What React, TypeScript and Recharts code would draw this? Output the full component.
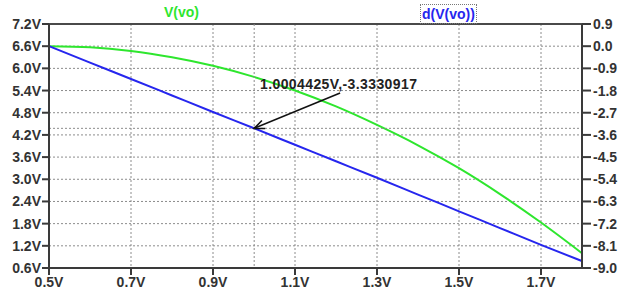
import { LineChart, Line, XAxis, YAxis, CartesianGrid, ReferenceLine } from 'recharts'

// sweep points (V) and the two traces
const sweep = [0.5, 0.6, 0.7, 0.8, 0.9, 1.0, 1.1, 1.2, 1.3, 1.4, 1.5, 1.6, 1.7, 1.8]
const vvo = [6.6, 6.57, 6.47, 6.3, 6.07, 5.77, 5.4, 4.97, 4.47, 3.92, 3.3, 2.6, 1.83, 1.0]
const dvvo = [0.0, -0.67, -1.33, -2.0, -2.67, -3.33, -4.0, -4.67, -5.34, -6.02, -6.7, -7.38, -8.06, -8.72]

const xTicks = [0.5, 0.7, 0.9, 1.1, 1.3, 1.5, 1.7]
const leftTicks = [0.6, 1.2, 1.8, 2.4, 3.0, 3.6, 4.2, 4.8, 5.4, 6.0, 6.6, 7.2]
const rightTicks = [-9.0, -8.1, -7.2, -6.3, -5.4, -4.5, -3.6, -2.7, -1.8, -0.9, 0.0, 0.9]

const cursorX = 1.0004425
const cursorY = -3.3330917
const arrowTail = { x: 1.21, y: -1.9 }

const data = sweep.map((x, i) => ({ x, vo: vvo[i], dvo: dvvo[i] }))

const W = 623
const H = 298
const M = { top: 24, left: 49, right: 41, bottom: 30 }

const GREEN = '#2ee62e'
const BLUE = '#2626ee'
const AXIS = '#3a3a3a'
const GRID = '#8c8c8c'
const font = '"Liberation Sans", Arial, sans-serif'

const tickStyle = { fill: '#333', fontSize: 14, fontWeight: 700, fontFamily: font }

// cursor marker: cross-hairs through the cursor point, the frame's top edge and the arrow
function CursorMark(props: any) {
  const { x1, y1, x2, y2 } = props
  const left = M.left
  const right = W - M.right
  const top = M.top
  const bottom = H - M.bottom
  const ang = Math.atan2(y2 - y1, x2 - x1)
  const len = 11
  const spread = 0.4
  const ax = x1 + len * Math.cos(ang - spread)
  const ay = y1 + len * Math.sin(ang - spread)
  const bx = x1 + len * Math.cos(ang + spread)
  const by = y1 + len * Math.sin(ang + spread)
  return (
    <g fill="none">
      <line x1={left} y1={top} x2={right} y2={top} stroke="#4a4a4a" strokeWidth={2} />
      <line x1={x1} y1={top} x2={x1} y2={bottom} stroke={GRID} strokeWidth={1} strokeDasharray="2 2" />
      <line x1={left} y1={y1} x2={right} y2={y1} stroke={GRID} strokeWidth={1} strokeDasharray="2 2" />
      <line x1={x1} y1={y1} x2={x2} y2={y2} stroke="#111" strokeWidth={1.6} />
      <polyline points={`${ax},${ay} ${x1},${y1} ${bx},${by}`} stroke="#111" strokeWidth={1.6} />
    </g>
  )
}

export default function App() {
  return (
    <div style={{ position: 'absolute', left: 0, top: 0, width: W, height: H, background: '#fff' }}>
      <LineChart width={W} height={H} data={data} margin={{ top: M.top, right: 0, left: 0, bottom: 0 }}>
        <CartesianGrid yAxisId="left" stroke={GRID} strokeWidth={1} strokeDasharray="2 2" />
        <XAxis
          dataKey="x"
          type="number"
          domain={[0.5, 1.8]}
          ticks={xTicks}
          tickFormatter={(v: number) => `${v.toFixed(1)}V`}
          tick={tickStyle}
          height={M.bottom}
          stroke={AXIS}
          strokeWidth={2}
          tickSize={7}
          interval={0}
        />
        <YAxis
          yAxisId="left"
          domain={[0.6, 7.2]}
          ticks={leftTicks}
          tickFormatter={(v: number) => `${v.toFixed(1)}V`}
          tick={tickStyle}
          width={M.left}
          stroke={AXIS}
          strokeWidth={2}
          tickSize={7}
          tickMargin={1}
          interval={0}
        />
        <YAxis
          yAxisId="right"
          orientation="right"
          domain={[-9.0, 0.9]}
          ticks={rightTicks}
          tickFormatter={(v: number) => v.toFixed(1)}
          tick={tickStyle}
          width={M.right}
          stroke={AXIS}
          strokeWidth={2}
          tickSize={9}
          tickMargin={2}
          interval={0}
        />
        <Line
          yAxisId="left"
          dataKey="vo"
          type="monotone"
          stroke={GREEN}
          strokeWidth={2}
          dot={false}
          isAnimationActive={false}
        />
        <Line
          yAxisId="right"
          dataKey="dvo"
          type="monotone"
          stroke={BLUE}
          strokeWidth={2}
          dot={false}
          isAnimationActive={false}
        />
        <ReferenceLine
          yAxisId="right"
          segment={[{ x: cursorX, y: cursorY }, arrowTail]}
          shape={CursorMark}
          ifOverflow="visible"
        />
      </LineChart>
      <div style={{ position: 'absolute', left: 164, top: 4, fontFamily: font, fontWeight: 700, fontSize: 14, color: GREEN }}>
        V(vo)
      </div>
      <div
        style={{
          position: 'absolute',
          left: 420,
          top: 4,
          padding: '0 1px',
          border: '1px dotted #777',
          fontFamily: font,
          fontWeight: 700,
          fontSize: 14,
          lineHeight: '18px',
          color: BLUE,
        }}
      >
        d(V(vo))
      </div>
      <div
        style={{
          position: 'absolute',
          left: 260,
          top: 76,
          fontFamily: font,
          fontWeight: 700,
          fontSize: 14,
          letterSpacing: 0.4,
          color: '#222',
        }}
      >
        {`${cursorX}V,${cursorY}`}
      </div>
    </div>
  )
}
